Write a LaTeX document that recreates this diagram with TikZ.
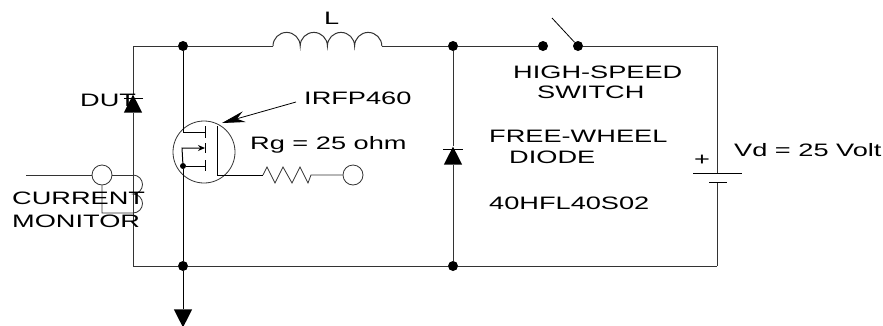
\documentclass[tikz,border=0pt]{standalone}
\usepackage{fontspec}
\setmainfont[FakeStretch=1.51]{Liberation Sans}
\usetikzlibrary{arrows.meta, shapes.geometric}

\tikzset{
    wire/.style={draw=black!80, line width=1pt},
    junction/.style={circle, fill=black, inner sep=0pt, minimum size=10pt},
    terminal/.style={circle, draw=black!80, fill=white, line width=0.8pt, inner sep=0pt, minimum size=20pt},
    diode/.style={isosceles triangle, isosceles triangle apex angle=54, fill=black, inner sep=0pt, minimum height=18pt, anchor=center},
    label/.style={anchor=west, inner sep=0pt, font=\fontsize{18}{18}\selectfont},
}

\begin{document}
\begin{tikzpicture}[x=1pt, y=-1pt]

\useasboundingbox (0, 0) rectangle (883, 325);

% outer loop corners
\coordinate (tl) at (133, 46);
\coordinate (bl) at (133, 266);
\coordinate (tr) at (717, 46);
\coordinate (br) at (717, 266);

\begin{scope}[every node/.style={junction}]
    \node (j1) at (183, 46) {};
    \node (j2) at (453, 46) {};
    \node (j3) at (183, 266) {};
    \node (j4) at (453, 266) {};
    \node (sw1) at (543, 46) {};
    \node (sw2) at (578, 46) {};
    \node (j5) at (183, 166) [minimum size=6pt] {};
\end{scope}

\node (dut) at (133, 107) [diode, shape border rotate=90] {};
\node (fwd) at (453, 159) [diode, shape border rotate=90] {};
\node (gnd) at (183, 315) [diode, shape border rotate=-90] {};

% top rail
\coordinate (la) at (273, 46);
\coordinate (lb) at (382, 46);
\draw[wire] (tl) -- (j1) -- (la);
\draw[wire] (la) arc (180:360:13.6) arc (180:360:13.6) arc (180:360:13.6) arc (180:360:13.6);
\draw[wire] (lb) -- (j2) -- (sw1);
\draw[wire] (sw2) -- (tr);
\coordinate (blade) at (552, 18);
\draw[line width=0.8pt] (sw2) -- (blade);

% left side and monitor
\coordinate (ma) at (133, 175);
\coordinate (mb) at (133, 194);
\coordinate (mc) at (133, 213);
\coordinate (md) at (102, 213);
\coordinate (me) at (26, 175);
\node (mon) at (102, 175) [terminal, fill=none] {};
\draw[wire] (tl) -- (dut) -- (bl) -- (j3) -- (j4) -- (br);
\draw[wire] (me) -- (mon) -- (ma);
\draw[wire, line width=0.8pt] (ma) arc (-90:90:9.5) arc (-90:90:9.5) -- (md) -- (mon);
\draw[line width=1pt] (143, 98) -- (124, 98);
\draw[line width=1pt] (443, 149) -- (463, 149);

% mosfet
\node (fet) at (204, 152) [terminal, fill=none, minimum size=62pt] {};
\coordinate (drain) at (205, 132);
\coordinate (body) at (205, 148);
\coordinate (bodyl) at (182, 148);
\coordinate (src) at (205, 166);
\coordinate (gtop) at (217, 126);
\coordinate (gbot) at (217, 175);
\coordinate (ra) at (263, 175);
\coordinate (rb) at (311, 175);
\node (gate) at (353, 175) [terminal] {};
\draw[line width=1pt] (j1) -- (183, 132) -- (drain);
\draw[line width=1pt] (j5) -- (j3);
\draw[line width=1pt] (j5) -- (src);
\draw[line width=1pt, -{Stealth[length=7pt, width=6pt]}] (j5) -- (bodyl) -- (body);
\draw[line width=1pt] (205, 126) -- (205, 138);
\draw[line width=1pt] (205, 143) -- (205, 153);
\draw[line width=1pt] (205, 160) -- (205, 171);
\draw[line width=1pt] (gtop) -- (gbot) -- (ra);
\draw[wire, line width=0.8pt] (ra) -- (267, 167) -- (275, 183) -- (283, 167) -- (292, 183) -- (300, 167) -- (308, 183) -- (rb) -- (gate);
\coordinate (ptr) at (296, 102);
\draw[line width=0.8pt, -{Stealth[length=23pt, width=11pt]}] (ptr) -- (222, 123);

% freewheel diode and battery
\coordinate (bp1) at (717, 173);
\coordinate (bp2) at (717, 182);
\draw[wire] (j2) -- (fwd) -- (j4);
\draw[wire] (tr) -- (bp1);
\draw[wire] (bp2) -- (br);
\draw[line width=0.8pt] (693, 173) -- (742, 173);
\draw[line width=0.8pt] (709, 182) -- (727, 182);

% ground lead
\draw[line width=1pt] (j3) -- (gnd);

% labels
\node (lL) at (324, 18) [label] {L};
\node (lDut) at (80, 100) [label] {DUT};
\node (lIrf) at (304, 98) [label] {IRFP460};
\node (lRg) at (250, 145) [label] {Rg = 25 ohm};
\node (lHs) at (513, 72) [label] {HIGH-SPEED};
\node (lSw) at (537, 92) [label] {SWITCH};
\node (lFw) at (489, 136) [label] {FREE-WHEEL};
\node (lDi) at (509, 157) [label] {DIODE};
\node (lPn) at (489, 203) [label] {40HFL40S02};
\node (lCur) at (12, 198) [label] {CURRENT};
\node (lMon) at (12, 221) [label] {MONITOR};
\node (lVd) at (734, 150) [label] {Vd = 25 Volt};
\node (lPlus) at (694, 160) [label] {+};

\end{tikzpicture}
\end{document}
